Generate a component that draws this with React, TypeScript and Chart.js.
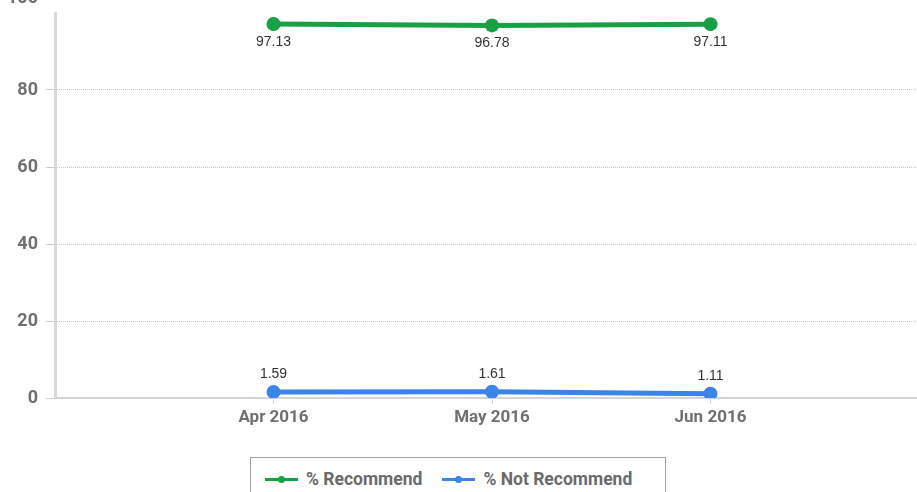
import React, { useEffect, useRef } from "react";
import { Chart, registerables } from "chart.js";

Chart.register(...registerables);

const categories = ["Apr 2016", "May 2016", "Jun 2016"];
const recommend = [97.13, 96.78, 97.11];
const notRecommend = [1.59, 1.61, 1.11];
const seriesNames = ["% Recommend", "% Not Recommend"];
const seriesColors = ["#17a044", "#3b84ea"];
const yTicks = [0, 20, 40, 60, 80, 100];

const AXIS_FONT = "Roboto";
const LABEL_GRAY = "#707070";
const Y_MAX = yTicks[yTicks.length - 1];

// Value labels: green below its points, blue above.
const valueLabels = {
  id: "valueLabels",
  afterDatasetsDraw(chart: any) {
    const ctx = chart.ctx;
    ctx.save();
    ctx.font = "14px 'Liberation Sans', Arial, sans-serif";
    ctx.fillStyle = "#333333";
    ctx.textAlign = "center";
    ctx.textBaseline = "middle";
    chart.data.datasets.forEach((ds: any, di: number) => {
      const meta = chart.getDatasetMeta(di);
      meta.data.forEach((pt: any, i: number) => {
        const v = ds.data[i].y;
        const dy = di === 0 ? 18 : -18;
        ctx.fillText(v.toFixed(2), pt.x, pt.y + dy);
      });
    });
    ctx.restore();
  },
};

// The top tick label sits above the plot and is partly cut by the page edge.
const topTickLabel = {
  id: "topTickLabel",
  afterDraw(chart: any) {
    const y = chart.scales.y;
    const ctx = chart.ctx;
    ctx.save();
    ctx.font = `bold 18px ${AXIS_FONT}`;
    ctx.fillStyle = LABEL_GRAY;
    ctx.textAlign = "right";
    ctx.textBaseline = "middle";
    ctx.fillText(String(Y_MAX), y.right - 8 - 9, y.getPixelForValue(Y_MAX) - 15);
    ctx.restore();
  },
};

function LegendItem({ color, label }: { color: string; label: string }) {
  return (
    <div style={{ display: "flex", alignItems: "center", marginRight: 20 }}>
      <div style={{ position: "relative", width: 33, height: 3, background: color, marginRight: 8 }}>
        <div
          style={{
            position: "absolute",
            left: 13,
            top: -2,
            width: 7,
            height: 7,
            borderRadius: "50%",
            background: color,
          }}
        />
      </div>
      <span style={{ font: `bold 17.5px ${AXIS_FONT}`, color: "#6a6a6a" }}>{label}</span>
    </div>
  );
}

export default function App() {
  const canvasRef = useRef<HTMLCanvasElement | null>(null);

  useEffect(() => {
    document.body.style.margin = "0";
    document.body.style.overflow = "hidden";
    const canvas = canvasRef.current;
    if (!canvas) return;
    const chart = new Chart(canvas, {
      type: "line",
      data: {
        datasets: [recommend, notRecommend].map((vals, di) => ({
          label: seriesNames[di],
          data: vals.map((y, i) => ({ x: i, y })),
          borderColor: seriesColors[di],
          backgroundColor: seriesColors[di],
          borderWidth: 5,
          pointRadius: 7,
          pointHoverRadius: 7,
          pointBorderWidth: 0,
          tension: 0,
        })),
      },
      plugins: [valueLabels, topTickLabel],
      options: {
        animation: false,
        responsive: false,
        layout: { padding: { top: 33, right: 11, left: 0, bottom: 0 } },
        plugins: {
          legend: { display: false },
          tooltip: { enabled: false },
        },
        scales: {
          x: {
            type: "linear",
            min: -1,
            max: categories.length,
            afterBuildTicks: (s: any) => {
              s.ticks = categories.map((_, i) => ({ value: i }));
            },
            afterFit: (s: any) => {
              s.height = 42;
            },
            ticks: {
              autoSkip: false,
              maxRotation: 0,
              padding: 4,
              color: LABEL_GRAY,
              font: { family: AXIS_FONT, size: 17, weight: "bold" },
              callback: (v: any) => categories[v as number] ?? "",
            },
            grid: {
              drawOnChartArea: false,
              drawTicks: true,
              tickLength: 6,
              tickColor: "#ccd6eb",
              color: "#ccd6eb",
            },
            border: { display: true, color: "#d4d4d4", width: 2 },
          },
          y: {
            min: 0,
            max: Y_MAX,
            afterBuildTicks: (s: any) => {
              s.ticks = yTicks.map((v) => ({ value: v }));
            },
            afterFit: (s: any) => {
              s.width = 55;
            },
            ticks: {
              padding: 8,
              color: LABEL_GRAY,
              font: { family: AXIS_FONT, size: 18, weight: "bold" },
              callback: (v: any) => (v === Y_MAX ? "" : String(v)),
            },
            grid: {
              color: (c: any) => (c.tick && c.tick.value === Y_MAX ? "rgba(0,0,0,0)" : "#c8c8c8"),
              lineWidth: 1,
              drawTicks: true,
              tickLength: 9,
              tickColor: (c: any) => (c.tick && c.tick.value === Y_MAX ? "rgba(0,0,0,0)" : "#cccccc"),
              tickBorderDash: [],
            },
            border: { display: true, color: "#d8d8d8", width: 3, dash: [1, 1] },
          },
        },
      },
    });
    return () => chart.destroy();
  }, []);

  return (
    <div style={{ position: "relative", width: 917, height: 492, overflow: "hidden", background: "#fff" }}>
      <div style={{ position: "absolute", left: 0, top: -20, width: 940, height: 460 }}>
        <canvas ref={canvasRef} width={940} height={460} style={{ display: "block" }} />
      </div>
      <div
        style={{
          position: "absolute",
          left: 250,
          top: 457,
          width: 416,
          height: 60,
          boxSizing: "border-box",
          border: "1px solid #a0a0a0",
          display: "flex",
          alignItems: "flex-start",
          paddingLeft: 14,
          paddingTop: 11,
        }}
      >
        {seriesNames.map((n, i) => (
          <LegendItem key={n} color={seriesColors[i]} label={n} />
        ))}
      </div>
    </div>
  );
}
